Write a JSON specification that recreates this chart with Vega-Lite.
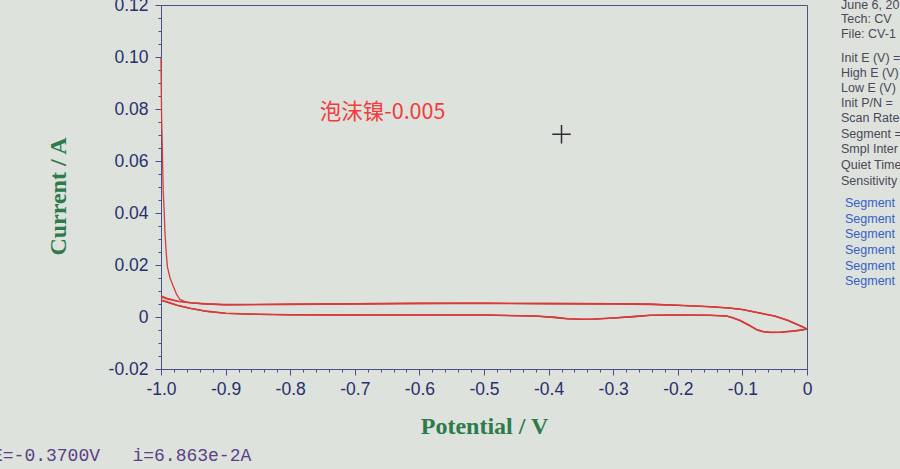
{
  "$schema": "https://vega.github.io/schema/vega-lite/v6.json",
  "width": 646,
  "height": 364,
  "autosize": {"type": "none"},
  "padding": {"left": 161, "top": 5, "right": 93, "bottom": 100},
  "background": "#dde2dc",
  "datasets": {
    "cv": [
      {"seg": "s1", "E": -1.0, "i": 0.0996},
      {"seg": "s1", "E": -0.9996, "i": 0.088},
      {"seg": "s1", "E": -0.999, "i": 0.076},
      {"seg": "s1", "E": -0.998, "i": 0.066},
      {"seg": "s1", "E": -0.9974, "i": 0.0577},
      {"seg": "s1", "E": -0.9965, "i": 0.048},
      {"seg": "s1", "E": -0.995, "i": 0.040},
      {"seg": "s1", "E": -0.9938, "i": 0.0323},
      {"seg": "s1", "E": -0.992, "i": 0.025},
      {"seg": "s1", "E": -0.99, "i": 0.0192},
      {"seg": "s1", "E": -0.986, "i": 0.015},
      {"seg": "s1", "E": -0.981, "i": 0.0118},
      {"seg": "s1", "E": -0.976, "i": 0.0088},
      {"seg": "s1", "E": -0.971, "i": 0.0068},
      {"seg": "s1", "E": -0.962, "i": 0.0058},
      {"seg": "s1", "E": -0.95, "i": 0.0053},
      {"seg": "s1", "E": -0.93, "i": 0.005},
      {"seg": "s1", "E": -0.9, "i": 0.0047},
      {"seg": "s1", "E": -0.8, "i": 0.0049},
      {"seg": "s1", "E": -0.7, "i": 0.0051},
      {"seg": "s1", "E": -0.6, "i": 0.0053},
      {"seg": "s1", "E": -0.5, "i": 0.0053},
      {"seg": "s1", "E": -0.4, "i": 0.0052},
      {"seg": "s1", "E": -0.3, "i": 0.0051},
      {"seg": "s1", "E": -0.243, "i": 0.005},
      {"seg": "s1", "E": -0.2, "i": 0.0045},
      {"seg": "s1", "E": -0.15, "i": 0.004},
      {"seg": "s1", "E": -0.12, "i": 0.0035},
      {"seg": "s1", "E": -0.1, "i": 0.0029},
      {"seg": "s1", "E": -0.073, "i": 0.0016},
      {"seg": "s1", "E": -0.05, "i": 0.0004},
      {"seg": "s1", "E": -0.03, "i": -0.0012},
      {"seg": "s1", "E": -0.015, "i": -0.0028},
      {"seg": "s1", "E": -0.006, "i": -0.0038},
      {"seg": "s1", "E": 0.0, "i": -0.0046},
      {"seg": "s2", "E": 0.0, "i": -0.0046},
      {"seg": "s2", "E": -0.01, "i": -0.005},
      {"seg": "s2", "E": -0.026, "i": -0.0054},
      {"seg": "s2", "E": -0.04, "i": -0.0057},
      {"seg": "s2", "E": -0.057, "i": -0.0058},
      {"seg": "s2", "E": -0.068, "i": -0.0055},
      {"seg": "s2", "E": -0.077, "i": -0.0049},
      {"seg": "s2", "E": -0.09, "i": -0.003},
      {"seg": "s2", "E": -0.104, "i": -0.0012},
      {"seg": "s2", "E": -0.115, "i": -0.0002},
      {"seg": "s2", "E": -0.124, "i": 0.0004},
      {"seg": "s2", "E": -0.15, "i": 0.0007},
      {"seg": "s2", "E": -0.2, "i": 0.0008},
      {"seg": "s2", "E": -0.243, "i": 0.0007},
      {"seg": "s2", "E": -0.27, "i": 0.0002},
      {"seg": "s2", "E": -0.3, "i": -0.0003},
      {"seg": "s2", "E": -0.33, "i": -0.0007},
      {"seg": "s2", "E": -0.35, "i": -0.0008},
      {"seg": "s2", "E": -0.37, "i": -0.0006},
      {"seg": "s2", "E": -0.39, "i": -0.0001},
      {"seg": "s2", "E": -0.42, "i": 0.0004},
      {"seg": "s2", "E": -0.5, "i": 0.0008},
      {"seg": "s2", "E": -0.6, "i": 0.0008},
      {"seg": "s2", "E": -0.7, "i": 0.0008},
      {"seg": "s2", "E": -0.8, "i": 0.0009},
      {"seg": "s2", "E": -0.85, "i": 0.0011},
      {"seg": "s2", "E": -0.9, "i": 0.0015},
      {"seg": "s2", "E": -0.93, "i": 0.0023},
      {"seg": "s2", "E": -0.955, "i": 0.0034},
      {"seg": "s2", "E": -0.975, "i": 0.0046},
      {"seg": "s2", "E": -0.99, "i": 0.0058},
      {"seg": "s2", "E": -1.0, "i": 0.0066},
      {"seg": "s3", "E": -1.0, "i": 0.0081},
      {"seg": "s3", "E": -0.99, "i": 0.0072},
      {"seg": "s3", "E": -0.975, "i": 0.0062},
      {"seg": "s3", "E": -0.955, "i": 0.0055},
      {"seg": "s3", "E": -0.93, "i": 0.0051},
      {"seg": "s3", "E": -0.9, "i": 0.0048},
      {"seg": "s3", "E": -0.8, "i": 0.0049},
      {"seg": "s3", "E": -0.7, "i": 0.0051},
      {"seg": "s3", "E": -0.6, "i": 0.0052},
      {"seg": "s3", "E": -0.5, "i": 0.0053},
      {"seg": "s3", "E": -0.4, "i": 0.0052},
      {"seg": "s3", "E": -0.3, "i": 0.0051},
      {"seg": "s3", "E": -0.243, "i": 0.0049},
      {"seg": "s3", "E": -0.2, "i": 0.0046},
      {"seg": "s3", "E": -0.15, "i": 0.004},
      {"seg": "s3", "E": -0.12, "i": 0.0034},
      {"seg": "s3", "E": -0.1, "i": 0.0028},
      {"seg": "s3", "E": -0.073, "i": 0.0015},
      {"seg": "s3", "E": -0.05, "i": 0.0003},
      {"seg": "s3", "E": -0.03, "i": -0.0013},
      {"seg": "s3", "E": -0.015, "i": -0.0029},
      {"seg": "s3", "E": -0.006, "i": -0.0039},
      {"seg": "s3", "E": 0.0, "i": -0.0047},
      {"seg": "s4", "E": 0.0, "i": -0.0047},
      {"seg": "s4", "E": -0.01, "i": -0.0051},
      {"seg": "s4", "E": -0.026, "i": -0.0055},
      {"seg": "s4", "E": -0.04, "i": -0.0058},
      {"seg": "s4", "E": -0.057, "i": -0.0059},
      {"seg": "s4", "E": -0.068, "i": -0.0056},
      {"seg": "s4", "E": -0.077, "i": -0.005},
      {"seg": "s4", "E": -0.09, "i": -0.0031},
      {"seg": "s4", "E": -0.104, "i": -0.0013},
      {"seg": "s4", "E": -0.115, "i": -0.0003},
      {"seg": "s4", "E": -0.124, "i": 0.0003},
      {"seg": "s4", "E": -0.15, "i": 0.0006},
      {"seg": "s4", "E": -0.2, "i": 0.0007},
      {"seg": "s4", "E": -0.243, "i": 0.0006},
      {"seg": "s4", "E": -0.27, "i": 0.0001},
      {"seg": "s4", "E": -0.3, "i": -0.0004},
      {"seg": "s4", "E": -0.33, "i": -0.0008},
      {"seg": "s4", "E": -0.35, "i": -0.0009},
      {"seg": "s4", "E": -0.37, "i": -0.0007},
      {"seg": "s4", "E": -0.39, "i": -0.0002},
      {"seg": "s4", "E": -0.42, "i": 0.0003},
      {"seg": "s4", "E": -0.5, "i": 0.0007},
      {"seg": "s4", "E": -0.6, "i": 0.0007},
      {"seg": "s4", "E": -0.7, "i": 0.0007},
      {"seg": "s4", "E": -0.8, "i": 0.0008},
      {"seg": "s4", "E": -0.85, "i": 0.001},
      {"seg": "s4", "E": -0.9, "i": 0.0014},
      {"seg": "s4", "E": -0.93, "i": 0.0022},
      {"seg": "s4", "E": -0.955, "i": 0.0033},
      {"seg": "s4", "E": -0.975, "i": 0.0045},
      {"seg": "s4", "E": -0.99, "i": 0.0057},
      {"seg": "s4", "E": -1.0, "i": 0.0065},
      {"seg": "s5", "E": -1.0, "i": 0.0076},
      {"seg": "s5", "E": -0.99, "i": 0.0069},
      {"seg": "s5", "E": -0.975, "i": 0.006},
      {"seg": "s5", "E": -0.955, "i": 0.0054},
      {"seg": "s5", "E": -0.93, "i": 0.005},
      {"seg": "s5", "E": -0.9, "i": 0.0047},
      {"seg": "s5", "E": -0.8, "i": 0.0048},
      {"seg": "s5", "E": -0.7, "i": 0.005},
      {"seg": "s5", "E": -0.6, "i": 0.0052},
      {"seg": "s5", "E": -0.5, "i": 0.0052},
      {"seg": "s5", "E": -0.4, "i": 0.0051},
      {"seg": "s5", "E": -0.3, "i": 0.005},
      {"seg": "s5", "E": -0.243, "i": 0.0048},
      {"seg": "s5", "E": -0.2, "i": 0.0045},
      {"seg": "s5", "E": -0.15, "i": 0.0039},
      {"seg": "s5", "E": -0.12, "i": 0.0034},
      {"seg": "s5", "E": -0.1, "i": 0.0028},
      {"seg": "s5", "E": -0.073, "i": 0.0015},
      {"seg": "s5", "E": -0.05, "i": 0.0003},
      {"seg": "s5", "E": -0.03, "i": -0.0013},
      {"seg": "s5", "E": -0.015, "i": -0.0029},
      {"seg": "s5", "E": -0.006, "i": -0.0039},
      {"seg": "s5", "E": 0.0, "i": -0.0047},
      {"seg": "s6", "E": 0.0, "i": -0.0047},
      {"seg": "s6", "E": -0.01, "i": -0.0051},
      {"seg": "s6", "E": -0.026, "i": -0.0056},
      {"seg": "s6", "E": -0.04, "i": -0.0059},
      {"seg": "s6", "E": -0.057, "i": -0.006},
      {"seg": "s6", "E": -0.068, "i": -0.0057},
      {"seg": "s6", "E": -0.077, "i": -0.0051},
      {"seg": "s6", "E": -0.09, "i": -0.0032},
      {"seg": "s6", "E": -0.104, "i": -0.0014},
      {"seg": "s6", "E": -0.115, "i": -0.0003},
      {"seg": "s6", "E": -0.124, "i": 0.0003},
      {"seg": "s6", "E": -0.15, "i": 0.0006},
      {"seg": "s6", "E": -0.2, "i": 0.0007},
      {"seg": "s6", "E": -0.243, "i": 0.0006},
      {"seg": "s6", "E": -0.27, "i": 0.0001},
      {"seg": "s6", "E": -0.3, "i": -0.0004},
      {"seg": "s6", "E": -0.33, "i": -0.0008},
      {"seg": "s6", "E": -0.35, "i": -0.0009},
      {"seg": "s6", "E": -0.37, "i": -0.0007},
      {"seg": "s6", "E": -0.39, "i": -0.0002},
      {"seg": "s6", "E": -0.42, "i": 0.0003},
      {"seg": "s6", "E": -0.5, "i": 0.0007},
      {"seg": "s6", "E": -0.6, "i": 0.0007},
      {"seg": "s6", "E": -0.7, "i": 0.0007},
      {"seg": "s6", "E": -0.8, "i": 0.0008},
      {"seg": "s6", "E": -0.85, "i": 0.001},
      {"seg": "s6", "E": -0.9, "i": 0.0014},
      {"seg": "s6", "E": -0.93, "i": 0.0022},
      {"seg": "s6", "E": -0.955, "i": 0.0033},
      {"seg": "s6", "E": -0.975, "i": 0.0045},
      {"seg": "s6", "E": -0.99, "i": 0.0056},
      {"seg": "s6", "E": -1.0, "i": 0.0064}
    ],
    "label": [{"E": -0.657, "i": 0.0785, "label": "泡沫镍-0.005"}],
    "cursor": [{"E": -0.38, "i": 0.0703}],
    "info": [
      {"E": 0.0526, "i": 0.1200, "label": "June 6, 20"},
      {"E": 0.0526, "i": 0.1146, "label": "Tech: CV"},
      {"E": 0.0526, "i": 0.1088, "label": "File: CV-1"},
      {"E": 0.0526, "i": 0.0996, "label": "Init E (V) ="},
      {"E": 0.0526, "i": 0.0938, "label": "High E (V)"},
      {"E": 0.0526, "i": 0.0881, "label": "Low E (V)"},
      {"E": 0.0526, "i": 0.0823, "label": "Init P/N ="},
      {"E": 0.0526, "i": 0.0765, "label": "Scan Rate"},
      {"E": 0.0526, "i": 0.0704, "label": "Segment ="},
      {"E": 0.0526, "i": 0.0646, "label": "Smpl Inter"},
      {"E": 0.0526, "i": 0.0585, "label": "Quiet Time"},
      {"E": 0.0526, "i": 0.0523, "label": "Sensitivity"}
    ],
    "segs": [
      {"E": 0.0588, "i": 0.0438, "label": "Segment"},
      {"E": 0.0588, "i": 0.0377, "label": "Segment"},
      {"E": 0.0588, "i": 0.0319, "label": "Segment"},
      {"E": 0.0588, "i": 0.0258, "label": "Segment"},
      {"E": 0.0588, "i": 0.0196, "label": "Segment"},
      {"E": 0.0588, "i": 0.0138, "label": "Segment"}
    ],
    "status": [{"E": -1.2616, "i": -0.0554, "label": "E=-0.3700V\u00a0\u00a0\u00a0i=6.863e-2A"}]
  },
  "encoding": {
    "x": {
      "field": "E",
      "type": "quantitative",
      "scale": {"domain": [-1, 0], "nice": false, "zero": false},
      "axis": {
        "title": "Potential / V",
        "titleFont": "Liberation Serif",
        "titleFontSize": 24,
        "titleFontWeight": "bold",
        "titleColor": "#2d7a4c",
        "titlePadding": 17,
        "values": [-1,-0.98,-0.96,-0.94,-0.92,-0.9,-0.88,-0.86,-0.84,-0.82,-0.8,-0.78,-0.76,-0.74,-0.72,-0.7,-0.68,-0.66,-0.64,-0.62,-0.6,-0.58,-0.56,-0.54,-0.52,-0.5,-0.48,-0.46,-0.44,-0.42,-0.4,-0.38,-0.36,-0.34,-0.32,-0.3,-0.28,-0.26,-0.24,-0.22,-0.2,-0.18,-0.16,-0.14,-0.12,-0.1,-0.08,-0.06,-0.04,-0.02,0],
        "labelExpr": "abs(datum.value) < 1e-9 ? '0' : (abs(round(datum.value*50)) % 5 == 0 ? replace(format(datum.value, '.1f'), '\u2212', '-') : '')",
        "tickSize": {"condition": {"test": "abs(round(datum.value*50)) % 5 == 0", "value": 6}, "value": 3},
        "labelFont": "Liberation Sans",
        "labelFontSize": 17.5,
        "labelColor": "#28306c",
        "labelPadding": 5,
        "labelFlush": false,
        "labelOverlap": false,
        "grid": false,
        "domainColor": "#47508a",
        "tickColor": "#47508a"
      }
    },
    "y": {
      "field": "i",
      "type": "quantitative",
      "scale": {"domain": [-0.02, 0.12], "nice": false, "zero": false},
      "axis": {
        "title": "Current / A",
        "titleFont": "Liberation Serif",
        "titleFontSize": 24,
        "titleFontWeight": "bold",
        "titleColor": "#2d7a4c",
        "titlePadding": 38,
        "titleY": 191,
        "values": [-0.02,-0.015,-0.01,-0.005,0,0.005,0.01,0.015,0.02,0.025,0.03,0.035,0.04,0.045,0.05,0.055,0.06,0.065,0.07,0.075,0.08,0.085,0.09,0.095,0.1,0.105,0.11,0.115,0.12],
        "labelExpr": "abs(datum.value) < 1e-9 ? '0' : (abs(round(datum.value*200)) % 4 == 0 ? replace(format(datum.value, '.2f'), '\u2212', '-') : '')",
        "tickSize": {"condition": {"test": "abs(round(datum.value*200)) % 4 == 0", "value": 6}, "value": 3},
        "labelFont": "Liberation Sans",
        "labelFontSize": 17.5,
        "labelColor": "#28306c",
        "labelPadding": 7,
        "labelFlush": false,
        "labelOverlap": false,
        "grid": false,
        "domainColor": "#47508a",
        "tickColor": "#47508a"
      }
    }
  },
  "layer": [
    {
      "data": {"name": "cv"},
      "mark": {"type": "line", "color": "#d63c3c", "strokeWidth": 1.3},
      "encoding": {"detail": {"field": "seg", "type": "nominal"}}
    },
    {
      "data": {"name": "label"},
      "mark": {"type": "text", "align": "center", "baseline": "middle", "font": "Noto Sans CJK SC", "fontSize": 21.5, "color": "#f23b3b"},
      "encoding": {"text": {"field": "label", "type": "nominal"}}
    },
    {
      "data": {"name": "cursor"},
      "mark": {"type": "point", "shape": "M-1,0H1M0,-1V1", "size": 340, "filled": false, "color": "#2d2d38", "strokeWidth": 1.5, "opacity": 1}
    },
    {
      "data": {"name": "info"},
      "mark": {"type": "text", "align": "left", "baseline": "middle", "font": "Liberation Sans", "fontSize": 12.5, "color": "#4b4858"},
      "encoding": {"text": {"field": "label", "type": "nominal"}}
    },
    {
      "data": {"name": "segs"},
      "mark": {"type": "text", "align": "left", "baseline": "middle", "font": "Liberation Sans", "fontSize": 12.5, "color": "#3461c4"},
      "encoding": {"text": {"field": "label", "type": "nominal"}}
    },
    {
      "data": {"name": "status"},
      "mark": {"type": "text", "align": "left", "baseline": "alphabetic", "font": "Liberation Mono", "fontSize": 18, "color": "#5b3f88"},
      "encoding": {"text": {"field": "label", "type": "nominal"}}
    }
  ],
  "config": {"view": {"stroke": "#4a5386", "strokeWidth": 1}}
}
